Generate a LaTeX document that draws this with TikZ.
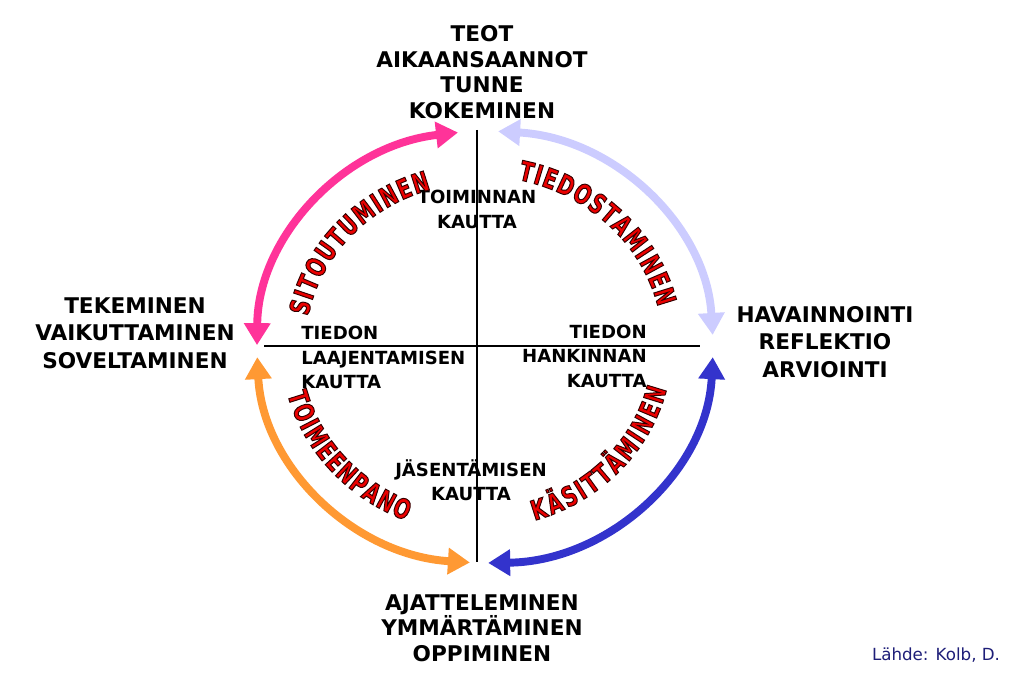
\documentclass[tikz,border=0pt]{standalone}
\usepackage{fontspec}
\setmainfont{DejaVu Sans}
\newfontfamily\wordfont[FakeStretch=0.72]{DejaVu Sans}
\usetikzlibrary{arrows.meta,decorations.text}
\definecolor{cyclepink}{RGB}{255,51,153}
\definecolor{cyclelilac}{RGB}{204,204,255}
\definecolor{cycleblue}{RGB}{51,51,204}
\definecolor{cycleorange}{RGB}{255,153,51}
\definecolor{wordred}{RGB}{235,0,0}
\definecolor{sourcenavy}{RGB}{30,30,120}
\newcommand\outlinedword{\special{pdf:literal direct 2 Tr 0.55 w 0.2 0 0 RG}}
\tikzset{outer/.style={align=center,inner sep=0pt,font=\fontsize{12.3}{#1}\selectfont\bfseries}}
\tikzset{inner/.style={inner sep=0pt,font=\fontsize{10.3}{13.9}\selectfont\bfseries}}
\tikzset{cyclearc/.style={line width=4.5pt,{Triangle[length=12.5pt,width=14.5pt]}-{Triangle[length=12.5pt,width=14.5pt]}}}
\tikzset{curvedword/.style={decorate,decoration={text along path,text align=fit to path,
  text={|\wordfont\bfseries\fontsize{15.5}{15.5}\selectfont\color{wordred}\outlinedword|#1}}}}

\begin{document}
\begin{tikzpicture}[x=0.02cm,y=0.02cm]
  \useasboundingbox (0,0) rectangle (1020,675);

  % axes
  \coordinate (axtop) at (477,545);
  \coordinate (axbot) at (477,113);
  \coordinate (axleft) at (264,329);
  \coordinate (axright) at (700,329);
  \draw[line width=1.1pt] (axtop)--(axbot);
  \draw[line width=1.1pt] (axleft)--(axright);

  % the four arrows of the cycle
  \coordinate (hub) at (485,328);
  \draw[cyclearc,cyclepink] ([shift={(179.5:228 and 216)}]hub)
    arc[start angle=179.5,end angle=96.8,x radius=228,y radius=216];
  \draw[cyclearc,cyclelilac] ([shift={(86.7:228 and 216)}]hub)
    arc[start angle=86.7,end angle=3.2,x radius=228,y radius=216];
  \draw[cyclearc,cycleblue] ([shift={(-2.7:228 and 216)}]hub)
    arc[start angle=-2.7,end angle=-89.2,x radius=228,y radius=216];
  \draw[cyclearc,cycleorange] ([shift={(266.2:228 and 216)}]hub)
    arc[start angle=266.2,end angle=182.7,x radius=228,y radius=216];

  % labels round the cycle
  \node[outer=14.6pt] (doing) at (482,603) {TEOT\\AIKAANSAANNOT\\TUNNE\\KOKEMINEN};
  \node[outer=15.7pt] (acting) at (135,342) {TEKEMINEN\\VAIKUTTAMINEN\\SOVELTAMINEN};
  \node[outer=15.7pt] (watching) at (825,333) {HAVAINNOINTI\\REFLEKTIO\\ARVIOINTI};
  \node[outer=14.6pt] (thinking) at (482,47) {AJATTELEMINEN\\YMMÄRTÄMINEN\\OPPIMINEN};

  % quadrant texts
  \node[inner,align=center] (action) at (477,465.5) {TOIMINNAN\\KAUTTA};
  \node[inner,align=left,anchor=west] (extend) at (301,317.5) {TIEDON\\LAAJENTAMISEN\\KAUTTA};
  \node[inner,align=right,anchor=east] (gather) at (647,319) {TIEDON\\HANKINNAN\\KAUTTA};
  \node[inner,align=center] (order) at (471,194.5) {JÄSENTÄMISEN\\KAUTTA};

  % curved words
  \coordinate (wordhub) at (480,328);
  \path[curvedword=SITOUTUMINEN] ([shift={(169.2:175 and 164)}]wordhub)
    arc[start angle=169.2,end angle=106.2,x radius=175,y radius=164];
  \path[curvedword=TIEDOSTAMINEN] ([shift={(78:183 and 171)}]wordhub)
    arc[start angle=78,end angle=13.5,x radius=183,y radius=171];
  \path[curvedword=KÄSITTÄMINEN] ([shift={(-73.5:192 and 181)}]wordhub)
    arc[start angle=-73.5,end angle=-13.5,x radius=192,y radius=181];
  \path[curvedword=TOIMEENPANO] ([shift={(194.6:199 and 187)}]wordhub)
    arc[start angle=194.6,end angle=248.2,x radius=199,y radius=187];

  \node[font=\fontsize{9.5}{10}\selectfont,text=sourcenavy] (source) at (936,20) {Lähde: Kolb, D.};
\end{tikzpicture}
\end{document}
